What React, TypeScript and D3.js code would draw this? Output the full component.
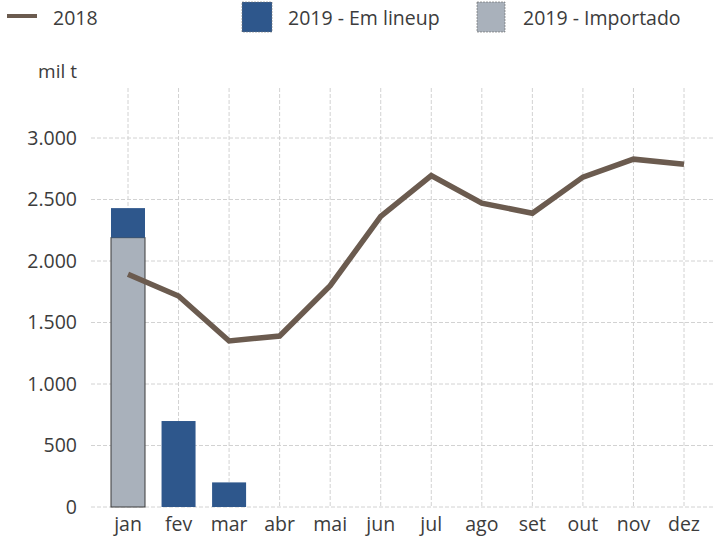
import React from 'react';
import { scaleLinear, scalePoint, line } from 'd3';

const months = ['jan', 'fev', 'mar', 'abr', 'mai', 'jun', 'jul', 'ago', 'set', 'out', 'nov', 'dez'];
const values2018 = [1892, 1715, 1350, 1390, 1800, 2362, 2695, 2470, 2388, 2682, 2828, 2787];
const importado2019 = [2190, 0, 0];
const lineup2019 = [240, 699, 200];
const yTicks = [0, 500, 1000, 1500, 2000, 2500, 3000];

const fmt = (v: number) => v.toLocaleString('de-DE');

const App: React.FC = () => {
    const width = 715;
    const height = 542;
    const font = "'Open Sans', 'Noto Sans', sans-serif";

    const x = scalePoint<string>().domain(months).range([128, 684]);
    const y = scaleLinear().domain([0, 3000]).range([507, 138]);
    const barW = 34;

    const linePath = line<number>()
        .x((_, i) => x(months[i]) as number)
        .y(d => y(d))(values2018) || '';

    return (
        <div style={{ position: 'absolute', left: 0, top: 0 }}>
            <svg width={width} height={height} style={{ display: 'block', fontFamily: font }}>
                <rect width={width} height={height} fill="#fff" />

                {/* grid */}
                <g stroke="#d2d2d2" strokeWidth={1} strokeDasharray="4 2">
                    {yTicks.map(t => (
                        <line key={t} x1={91} x2={715} y1={y(t)} y2={y(t)} />
                    ))}
                    {months.map(m => (
                        <line key={m} x1={x(m)} x2={x(m)} y1={88} y2={507} />
                    ))}
                </g>

                {/* y labels */}
                <g fill="#3c3c3c" fontSize={19.5} textAnchor="end">
                    {yTicks.map(t => (
                        <text key={t} x={77} y={y(t)} dy="0.35em">{fmt(t)}</text>
                    ))}
                </g>
                <text x={77} y={78} fontSize={19} fill="#3c3c3c" textAnchor="end">mil t</text>

                {/* x labels */}
                <g fill="#3c3c3c" fontSize={19.5} textAnchor="middle">
                    {months.map(m => (
                        <text key={m} x={x(m)} y={531}>{m}</text>
                    ))}
                </g>

                {/* bars */}
                <g>
                    {importado2019.map((v, i) => v > 0 && (
                        <rect
                            key={'imp' + i}
                            x={(x(months[i]) as number) - barW / 2}
                            y={y(v)}
                            width={barW}
                            height={y(0) - y(v)}
                            fill="#a9b1bb"
                            stroke="#3a3a3a"
                            strokeWidth={1}
                        />
                    ))}
                    {lineup2019.map((v, i) => (
                        <rect
                            key={'lin' + i}
                            x={(x(months[i]) as number) - barW / 2}
                            y={y(importado2019[i] + v)}
                            width={barW}
                            height={y(importado2019[i]) - y(importado2019[i] + v)}
                            fill="#2e578c"
                        />
                    ))}
                </g>

                {/* 2018 line */}
                <path d={linePath} fill="none" stroke="#6b5b4f" strokeWidth={5.5} strokeLinejoin="miter" />

                {/* legend */}
                <g fontSize={19.5} fill="#3c3c3c">
                    <line x1={7} x2={37} y1={16} y2={16} stroke="#6b5b4f" strokeWidth={4} />
                    <text x={53} y={25}>2018</text>
                    <rect x={242} y={2} width={30} height={30} fill="#2e578c" stroke="#777" strokeWidth={0.6} strokeDasharray="2 1" />
                    <text x={288} y={25}>2019 - Em lineup</text>
                    <rect x={477} y={2} width={28} height={30} fill="#a9b1bb" stroke="#666" strokeWidth={0.6} strokeDasharray="2 1" />
                    <text x={523} y={25}>2019 - Importado</text>
                </g>
            </svg>
        </div>
    );
};

export default App;
